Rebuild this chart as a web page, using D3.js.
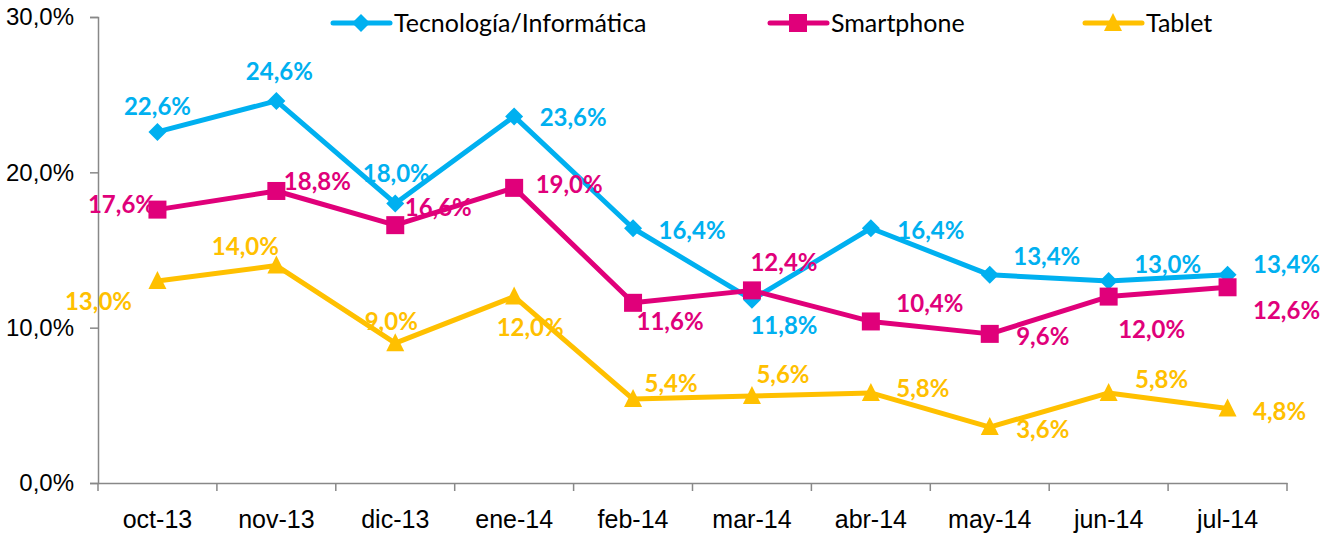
<!DOCTYPE html>
<html>
<head>
<meta charset="utf-8">
<script src="https://cdn.jsdelivr.net/npm/d3@7"></script>
<style>
  body { margin: 0; background: #fff; }
  svg { font-family: "Lato", "Noto Sans", sans-serif; }
</style>
</head>
<body>
<div id="chart"></div>
<script>
// categories and series values
const months = ["oct-13", "nov-13", "dic-13", "ene-14", "feb-14", "mar-14", "abr-14", "may-14", "jun-14", "jul-14"];
const tecnologia = [22.6, 24.6, 18.0, 23.6, 16.4, 11.8, 16.4, 13.4, 13.0, 13.4];
const smartphone = [17.6, 18.8, 16.6, 19.0, 11.6, 12.4, 10.4, 9.6, 12.0, 12.6];
const tablet = [13.0, 14.0, 9.0, 12.0, 5.4, 5.6, 5.8, 3.6, 5.8, 4.8];
const yTicks = [0, 10, 20, 30];

// label placement (dx, dy relative to the point, in px)
const tecLabelPos = [[0,-25],[3,-29],[1,-30],[59,1],[59,2],[32,26],[60,2],[57,-18],[59,-16],[59,-10]];
const smaLabelPos = [[-36,-5],[41,-9],[43,-18],[55,-3],[37,19],[32,-28],[59,-18],[53,3],[43,33],[59,23]];
const tabLabelPos = [[-59,21],[-31,-19],[-4,-22],[16,31],[38,-16],[31,-21],[52,-4],[53,3],[53,-13],[52,3]];

const margin = {top: 17, right: 45, bottom: 50, left: 98},
      width = 1332 - margin.left - margin.right,
      height = 533 - margin.top - margin.bottom;

const x = d3.scaleBand().domain(months).range([0, width]);
const y = d3.scaleLinear().domain([0, 30]).range([height, 0]);

const svg = d3.select("#chart").append("svg")
    .attr("width", 1332)
    .attr("height", 533)
  .append("g")
    .attr("transform", "translate(" + margin.left + "," + margin.top + ")");

const pct = v => d3.format(".1f")(v).replace(".", ",") + "%";

// Y axis
const yAxis = svg.append("g")
    .call(d3.axisLeft(y).tickValues(yTicks).tickSize(8).tickPadding(16).tickFormat(pct));
yAxis.select(".domain").attr("stroke", "#888").attr("stroke-width", 1.5);
yAxis.selectAll(".tick line").attr("stroke", "#888").attr("stroke-width", 1.5);
yAxis.selectAll(".tick text").attr("font-size", 24).attr("fill", "#000");

// X axis
const xAxis = svg.append("g")
    .attr("transform", "translate(0," + height + ")")
    .call(d3.axisBottom(x).tickSize(0));
xAxis.select(".domain").attr("stroke", "#888").attr("stroke-width", 1.5);
xAxis.selectAll(".tick text")
    .attr("y", 36).attr("dy", "0.35em")
    .attr("font-size", 25).attr("fill", "#000");
// tick marks between categories
xAxis.selectAll(".sep")
    .data(d3.range(months.length + 1))
    .enter().append("line")
    .attr("x1", i => i * x.step()).attr("x2", i => i * x.step())
    .attr("y1", 0).attr("y2", 8)
    .attr("stroke", "#888").attr("stroke-width", 1.5);

const series = [
  {name: "Tecnología/Informática", values: tecnologia, color: "#00B0F0", marker: "diamond", labels: tecLabelPos},
  {name: "Smartphone", values: smartphone, color: "#E0007A", marker: "square", labels: smaLabelPos},
  {name: "Tablet", values: tablet, color: "#FFC000", marker: "triangle", labels: tabLabelPos}
];

const cx = i => x(months[i]) + x.bandwidth() / 2;

function marker(sel, type, color) {
  if (type === "diamond") {
    sel.append("path").attr("d", "M0,-9L9,0L0,9L-9,0Z").attr("fill", color);
  } else if (type === "square") {
    sel.append("rect").attr("x", -9).attr("y", -9).attr("width", 18).attr("height", 18).attr("fill", color);
  } else {
    sel.append("path").attr("d", "M0,-10L9,8L-9,8Z").attr("fill", color);
  }
}

const line = d3.line().x((d, i) => cx(i)).y(d => y(d));

series.forEach(s => {
  svg.append("path")
     .attr("d", line(s.values))
     .attr("fill", "none")
     .attr("stroke", s.color)
     .attr("stroke-width", 5)
     .attr("stroke-linejoin", "round");
});

series.forEach(s => {
  s.values.forEach((v, i) => {
    const g = svg.append("g").attr("transform", "translate(" + cx(i) + "," + y(v) + ")");
    marker(g, s.marker, s.color);
  });
});

series.forEach(s => {
  s.values.forEach((v, i) => {
    svg.append("text")
       .attr("x", cx(i) + s.labels[i][0])
       .attr("y", y(v) + s.labels[i][1])
       .attr("dy", "0.35em")
       .attr("text-anchor", "middle")
       .attr("font-size", 24)
       .attr("font-weight", "bold")
       .attr("fill", s.color)
       .text(pct(v));
  });
});

// legend
const legendX = [333, 770, 1085];
series.forEach((s, i) => {
  const g = svg.append("g").attr("transform", "translate(" + (legendX[i] - margin.left) + "," + (23 - margin.top) + ")");
  g.append("line").attr("x1", 0).attr("x2", 57).attr("y1", 0).attr("y2", 0)
   .attr("stroke", s.color).attr("stroke-width", 5).attr("stroke-linecap", "round");
  const m = g.append("g").attr("transform", "translate(28,0)");
  marker(m, s.marker, s.color);
  g.append("text").attr("x", 61).attr("y", 0).attr("dy", "0.35em")
   .attr("font-size", 25).attr("fill", "#000").text(s.name);
});
</script>
</body>
</html>
